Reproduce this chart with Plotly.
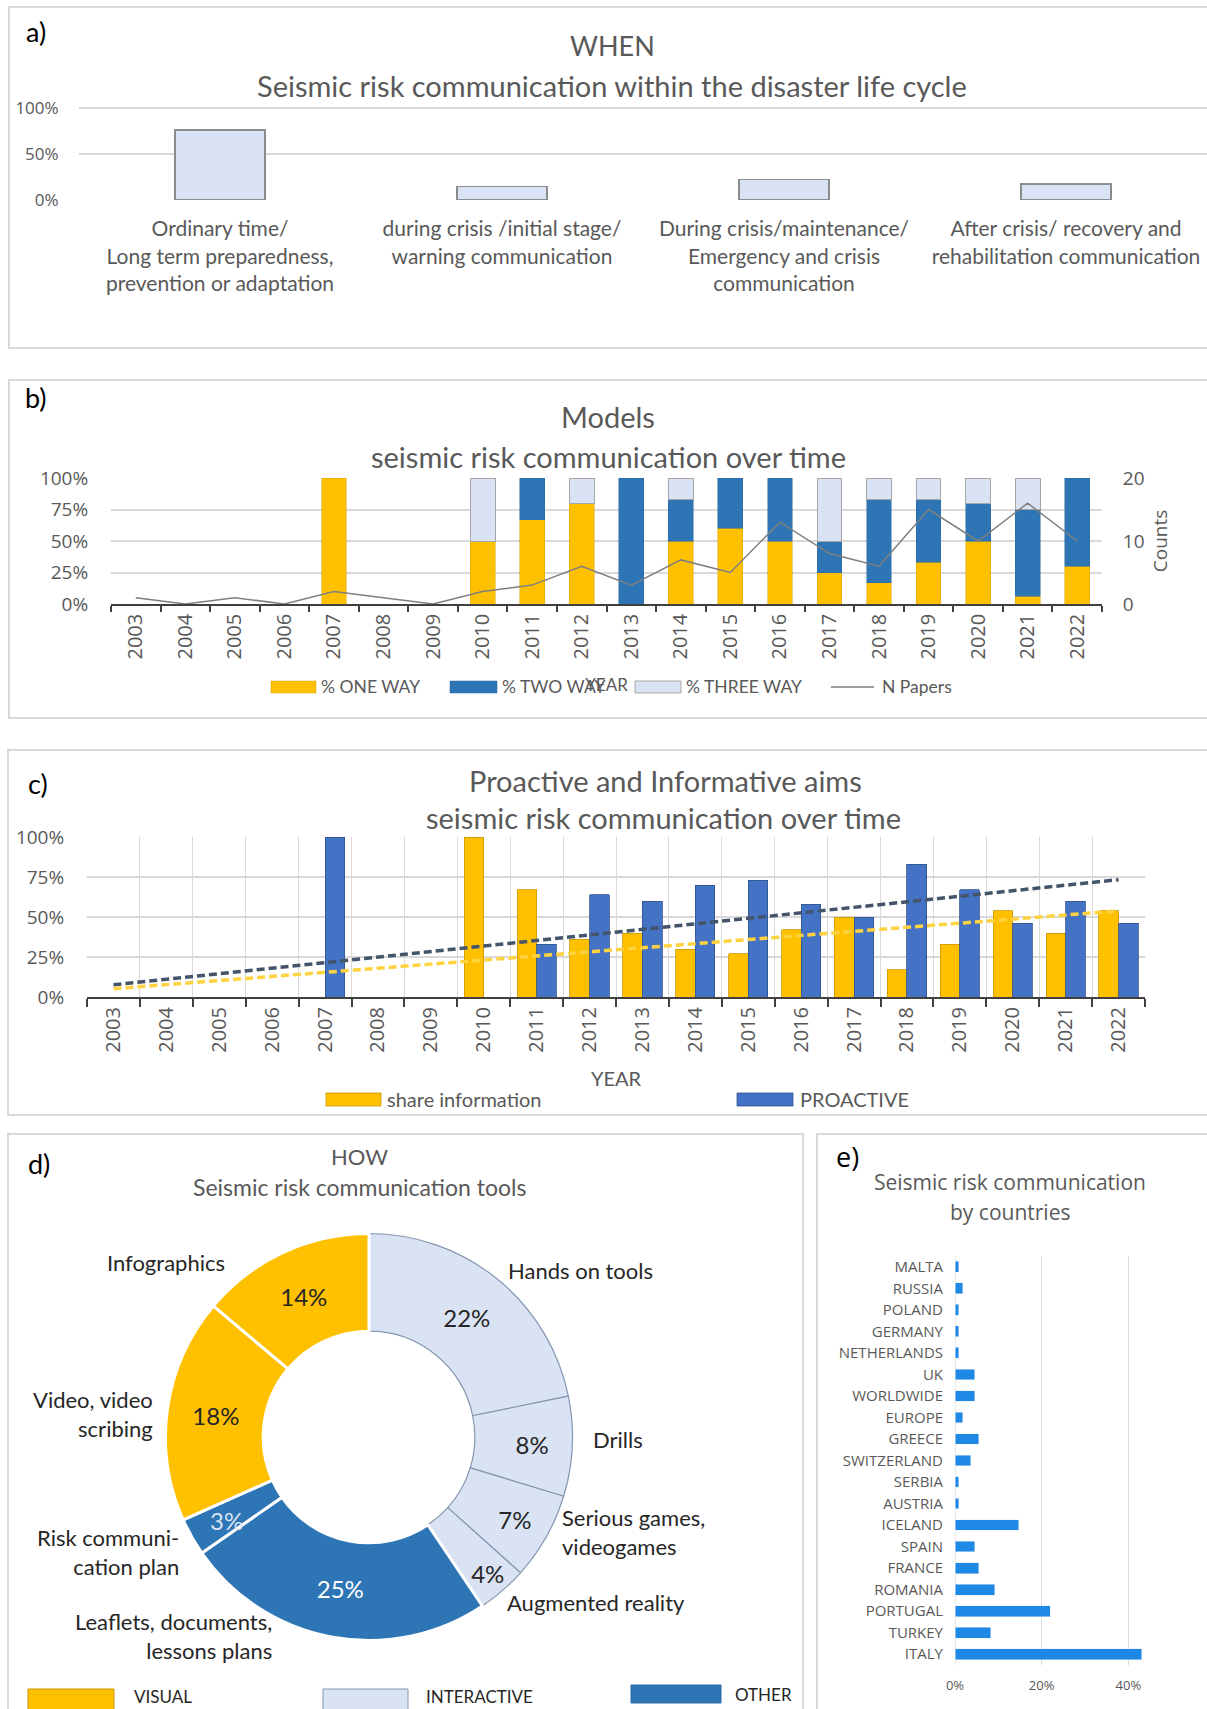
import numpy as np
import plotly.graph_objects as go

W, H = 1207, 1709


def fx(px):
    return px / W


def fy(py):
    return 1 - py / H


# ---------------- data ----------------
# a) WHEN
stages = [
    "Ordinary time/<br>Long term preparedness,<br>prevention or adaptation",
    "during crisis /initial stage/<br>warning communication",
    "During crisis/maintenance/<br>Emergency and crisis<br>communication",
    "After crisis/ recovery and<br>rehabilitation communication",
]
stage_share = [0.76, 0.145, 0.225, 0.175]

# b) Models over time
years = [str(y) for y in range(2003, 2023)]
one_way = [0, 0, 0, 0, 1.0, 0, 0, 0.50, 0.67, 0.80, 0, 0.50, 0.60, 0.50, 0.25, 0.17, 0.33, 0.50, 0.06, 0.30]
two_way = [0, 0, 0, 0, 0, 0, 0, 0, 0.33, 0, 1.0, 0.33, 0.40, 0.50, 0.25, 0.66, 0.50, 0.30, 0.69, 0.70]
three_way = [0, 0, 0, 0, 0, 0, 0, 0.50, 0, 0.20, 0, 0.17, 0, 0, 0.50, 0.17, 0.17, 0.20, 0.25, 0]
n_papers = [1, 0, 1, 0, 2, 1, 0, 2, 3, 6, 3, 7, 5, 13, 8, 6, 15, 10, 16, 10]

# c) Proactive / informative
share_info = [0, 0, 0, 0, 0, 0, 0, 1.0, 0.67, 0.36, 0.40, 0.30, 0.27, 0.42, 0.50, 0.17, 0.33, 0.54, 0.40, 0.54]
proactive = [0, 0, 0, 0, 1.0, 0, 0, 0, 0.33, 0.64, 0.60, 0.70, 0.73, 0.58, 0.50, 0.83, 0.67, 0.46, 0.60, 0.46]

# d) HOW - tools
tools = ["Hands on tools", "Drills", "Serious games, videogames", "Augmented reality",
         "Leaflets, documents, lessons plans", "Risk communication plan",
         "Video, video scribing", "Infographics"]
tool_share = [22, 8, 7, 4, 25, 3, 18, 14]
tool_group = ["INTERACTIVE", "INTERACTIVE", "INTERACTIVE", "INTERACTIVE",
              "OTHER", "OTHER", "VISUAL", "VISUAL"]

# e) countries
countries = ["MALTA", "RUSSIA", "POLAND", "GERMANY", "NETHERLANDS", "UK", "WORLDWIDE", "EUROPE",
             "GREECE", "SWITZERLAND", "SERBIA", "AUSTRIA", "ICELAND", "SPAIN", "FRANCE",
             "ROMANIA", "PORTUGAL", "TURKEY", "ITALY"]
country_share = [0.0092, 0.0183, 0.0092, 0.0092, 0.0092, 0.0459, 0.0459, 0.0183, 0.0550, 0.0367,
                 0.0092, 0.0092, 0.1468, 0.0459, 0.0550, 0.0917, 0.2202, 0.0826, 0.4312]

# ---------------- style ----------------
GRAY = "#595959"
DARK = "#262626"
GRID = "#d9d9d9"
YEL = "#FFC000"
BLUE_B = "#2E75B6"
LIGHT = "#DAE3F3"
BLUE_C = "#4472C4"
E_BLUE = "#1E88E5"
CAL = "Lato, 'Open Sans', sans-serif"
SEG = "'Open Sans', sans-serif"
GROUP_COLORS = {"VISUAL": YEL, "INTERACTIVE": LIGHT, "OTHER": BLUE_B}


def nz(arr):
    return [v if v else None for v in arr]


fig = go.Figure()

# a
fig.add_trace(go.Bar(x=stages, y=stage_share, width=0.32,
                     marker=dict(color=LIGHT, line=dict(color="#8c8c8c", width=1.5)),
                     xaxis="x", yaxis="y", showlegend=False))

# b
fig.add_trace(go.Bar(x=years, y=nz(one_way), name="% ONE WAY", width=0.5,
                     marker=dict(color=YEL, line=dict(color="#d9a300", width=0.5)),
                     xaxis="x2", yaxis="y2"))
fig.add_trace(go.Bar(x=years, y=nz(two_way), name="% TWO WAY", width=0.5,
                     marker=dict(color=BLUE_B, line=dict(color="#2a6aa5", width=0.5)),
                     xaxis="x2", yaxis="y2"))
fig.add_trace(go.Bar(x=years, y=nz(three_way), name="% THREE WAY", width=0.5,
                     marker=dict(color=LIGHT, line=dict(color="#a6a6a6", width=1)),
                     xaxis="x2", yaxis="y2"))
fig.add_trace(go.Scatter(x=years, y=n_papers, name="N Papers", mode="lines",
                         line=dict(color="#7f7f7f", width=1.5), xaxis="x2", yaxis="y3"))

# c
fig.add_trace(go.Bar(x=years, y=nz(share_info), name="share information", width=0.37, offset=-0.37,
                     marker=dict(color=YEL, line=dict(color="#c99700", width=0.8)),
                     xaxis="x3", yaxis="y4"))
fig.add_trace(go.Bar(x=years, y=nz(proactive), name="PROACTIVE", width=0.37, offset=0.0,
                     marker=dict(color=BLUE_C, line=dict(color="#2f528f", width=0.8)),
                     xaxis="x3", yaxis="y5"))
xi = np.arange(len(years))
for arr, col in [(proactive, "#44546A"), (share_info, "#FFD23F")]:
    m, b = np.polyfit(xi, np.array(arr, dtype=float), 1)
    fig.add_trace(go.Scatter(x=years, y=m * xi + b, mode="lines", showlegend=False,
                             line=dict(color=col, width=3.5, dash="8px,4px"),
                             xaxis="x3", yaxis="y5"))

# d
slice_colors = [GROUP_COLORS[g] for g in tool_group]
line_colors = ["#8497B0" if g == "INTERACTIVE" else "white" for g in tool_group]
line_widths = [1.2 if g == "INTERACTIVE" else 3 for g in tool_group]
text_colors = ["white" if g == "OTHER" else DARK for g in tool_group]
small_idx = tool_share.index(min(tool_share))
templates = ["%{value}%"] * len(tool_share)
templates[small_idx] = ""  # the thin slice label is drawn full-size below, as in the original
cx, cy, dia = 369, 1437, 407
fig.add_trace(go.Pie(values=tool_share, labels=tools, sort=False, direction="clockwise", rotation=0,
                     hole=0.52,
                     domain=dict(x=[fx(cx - dia / 2), fx(cx + dia / 2)], y=[fy(cy + dia / 2), fy(cy - dia / 2)]),
                     marker=dict(colors=slice_colors, line=dict(color=line_colors, width=line_widths)),
                     texttemplate=templates, textposition="inside", insidetextorientation="horizontal",
                     textfont=dict(color=text_colors, size=24, family=CAL),
                     showlegend=False))

# e
fig.add_trace(go.Bar(x=country_share, y=countries, orientation="h", width=0.5,
                     marker=dict(color=E_BLUE), xaxis="x4", yaxis="y6", showlegend=False))

hide_tick = "rgba(0,0,0,0)"
fig.update_layout(
    width=W, height=H, margin=dict(l=0, r=0, t=0, b=0, autoexpand=False),
    paper_bgcolor="white", plot_bgcolor="rgba(0,0,0,0)",
    barmode="stack", showlegend=False, font=dict(family=CAL, color=GRAY),
    # a
    xaxis=dict(domain=[fx(79), 1.0], range=[-0.5, 3.5], anchor="y", type="category",
               tickfont=dict(size=21, family=CAL, color=GRAY), ticks="outside", ticklen=10,
               tickcolor=hide_tick, showgrid=False, showline=False, zeroline=False),
    yaxis=dict(domain=[fy(200), fy(107)], range=[0, 1.012], anchor="x", tickvals=[0, 0.5, 1],
               tickformat=".0%", gridcolor=GRID, gridwidth=1.5, zeroline=False,
               tickfont=dict(size=17, family=SEG, color=GRAY), ticks="outside", ticklen=16,
               tickcolor=hide_tick),
    # b
    xaxis2=dict(domain=[fx(111), fx(1102)], anchor="y2", type="category", tickson="boundaries",
                ticks="outside", ticklen=6, tickcolor="#404040", tickwidth=1.5, showline=True,
                linecolor="#404040", linewidth=1.5, showgrid=False, tickangle=-90,
                tickfont=dict(size=20, family=SEG, color=GRAY),
                title=dict(text="YEAR", font=dict(size=17, family=CAL, color=GRAY), standoff=21)),
    yaxis2=dict(domain=[fy(604), fy(478)], anchor="x2", range=[0, 1],
                tickvals=[0, 0.25, 0.5, 0.75, 1], tickformat=".0%", gridcolor=GRID, gridwidth=1.5,
                zeroline=False, tickfont=dict(size=19, family=SEG, color=GRAY), ticks="outside",
                ticklen=18, tickcolor=hide_tick),
    yaxis3=dict(overlaying="y2", side="right", anchor="x2", range=[0, 20], tickvals=[0, 10, 20],
                showgrid=False, zeroline=False, tickfont=dict(size=19, family=SEG, color=GRAY),
                ticks="outside", ticklen=16, tickcolor=hide_tick,
                title=dict(text="Counts", font=dict(size=19, family=SEG, color=GRAY), standoff=10)),
    # c
    xaxis3=dict(domain=[fx(87), fx(1145)], anchor="y4", type="category", tickson="boundaries",
                ticks="outside", ticklen=8, tickcolor="#404040", tickwidth=1.5, showline=True,
                linecolor="#404040", linewidth=2, showgrid=True, gridcolor=GRID, gridwidth=1,
                tickangle=-90, tickfont=dict(size=20, family=SEG, color=GRAY),
                title=dict(text="YEAR", font=dict(size=20, family=CAL, color=GRAY), standoff=20)),
    yaxis4=dict(domain=[fy(997), fy(837)], anchor="x3", range=[0, 1],
                tickvals=[0, 0.25, 0.5, 0.75, 1], tickformat=".0%", gridcolor=GRID, gridwidth=1.5,
                zeroline=False, tickfont=dict(size=19, family=SEG, color=GRAY), ticks="outside",
                ticklen=18, tickcolor=hide_tick),
    yaxis5=dict(overlaying="y4", anchor="x3", range=[0, 1], visible=False, showgrid=False,
                zeroline=False),
    # e
    xaxis4=dict(domain=[fx(955), fx(1150)], anchor="y6", range=[0, 0.45], tickvals=[0, 0.2, 0.4],
                tickformat=".0%", gridcolor=GRID, gridwidth=1, zeroline=True, zerolinecolor="#e6e6e6",
                zerolinewidth=1, tickfont=dict(size=13, family=SEG, color=GRAY), ticks="outside",
                ticklen=8, tickcolor=hide_tick),
    yaxis6=dict(domain=[fy(1665), fy(1256)], anchor="x4", type="category", autorange="reversed",
                showgrid=False, zeroline=False, tickfont=dict(size=15, family=SEG, color=GRAY),
                ticks="outside", ticklen=8, tickcolor=hide_tick),
)

annotations = []


def ann(text, x, y, size, color=GRAY, family=CAL, xanchor="center", align="center"):
    annotations.append(dict(text=text, x=fx(x), y=fy(y), xref="paper", yref="paper",
                            xanchor=xanchor, yanchor="middle", showarrow=False, align=align,
                            font=dict(size=size, color=color, family=family)))


# panel letters
ann("a)", 36, 32, 27, "black")
ann("b)", 36, 398, 27, "black")
ann("c)", 38, 783, 27, "black")
ann("d)", 39, 1163, 27, "black")
ann("e)", 847, 1156, 27, "black", SEG)

# titles
ann("WHEN", 612, 45, 27)
ann("Seismic risk communication within the disaster life cycle", 612, 85, 29)
ann("Models", 608, 417, 29)
ann("seismic risk communication over time", 608, 456, 29)
ann("Proactive and Informative aims", 665, 780, 29)
ann("seismic risk communication over time", 663, 818, 29)
ann("HOW", 359, 1156, 22)
ann("Seismic risk communication tools", 359, 1187, 23)
ann("Seismic risk communication", 1010, 1182, 21, GRAY, SEG)
ann("by countries", 1010, 1212, 21, GRAY, SEG)

# small slice percentage (full size, overlapping its slice like the original)
ann(f"{tool_share[small_idx]}%", 227, 1520, 24, "#DAE3F3")

# donut outer labels
ann("Infographics", 166, 1262, 22, DARK)
ann("Hands on tools", 580, 1270, 22, DARK)
ann("Video, video<br>scribing", 155, 1414, 22, DARK, xanchor="right", align="right")
ann("Drills", 618, 1439, 22, DARK)
ann("Serious games,<br>videogames", 560, 1532, 22, DARK, xanchor="left", align="left")
ann("Risk communi-<br>cation plan", 181, 1552, 22, DARK, xanchor="right", align="right")
ann("Augmented reality", 505, 1602, 22, DARK, xanchor="left", align="left")
ann("Leaflets, documents,<br>lessons plans", 274, 1636, 22, DARK, xanchor="right", align="right")

# legend texts
ann("% ONE WAY", 319, 687, 17.5, xanchor="left")
ann("% TWO WAY", 500, 687, 17.5, xanchor="left")
ann("% THREE WAY", 684, 687, 17.5, xanchor="left")
ann("N Papers", 880, 687, 17.5, xanchor="left")
ann("share information", 385, 1099, 20, xanchor="left")
ann("PROACTIVE", 798, 1099, 20, xanchor="left")
ann("VISUAL", 132, 1696, 17, DARK, xanchor="left")
ann("INTERACTIVE", 424, 1696, 17, DARK, xanchor="left")
ann("OTHER", 733, 1694, 17, DARK, xanchor="left")

shapes = []


def rect(x0, y0, x1, y1, fill, line="rgba(0,0,0,0)", lw=1, layer="above"):
    shapes.append(dict(type="rect", xref="paper", yref="paper", x0=fx(x0), x1=fx(x1),
                       y0=fy(y1), y1=fy(y0), fillcolor=fill, line=dict(color=line, width=lw),
                       layer=layer))


# panel frames
for (x0, y0, x1, y1) in [(9, 7, 1215, 348), (9, 380, 1215, 718), (8, 750, 1215, 1115),
                         (8, 1134, 803, 1720), (817, 1134, 1215, 1720)]:
    rect(x0, y0, x1, y1, "rgba(0,0,0,0)", "#d9d9d9", 2, "below")

# legend swatches
rect(271, 681, 316, 693, YEL, "#d9a300", 0.5)
rect(450, 681, 497, 693, BLUE_B, "#2a6aa5", 0.5)
rect(635, 681, 681, 693, LIGHT, "#a6a6a6", 1)
shapes.append(dict(type="line", xref="paper", yref="paper", x0=fx(831), x1=fx(874),
                   y0=fy(687), y1=fy(687), line=dict(color="#7f7f7f", width=1.5)))
rect(326, 1093, 381, 1106, YEL, "#c99700", 0.8)
rect(737, 1093, 793, 1106, BLUE_C, "#2f528f", 0.8)
rect(28, 1689, 114, 1712, YEL, "#c99700", 1)
rect(323, 1689, 408, 1712, LIGHT, "#8497B0", 1)
rect(631, 1685, 721, 1703, BLUE_B, "#2a6aa5", 1)

fig.update_layout(annotations=annotations, shapes=shapes)
fig.write_html("out.html",
               post_script="document.body.style.margin='0';document.body.style.padding='0';"
                           "document.documentElement.style.overflow='hidden';")
